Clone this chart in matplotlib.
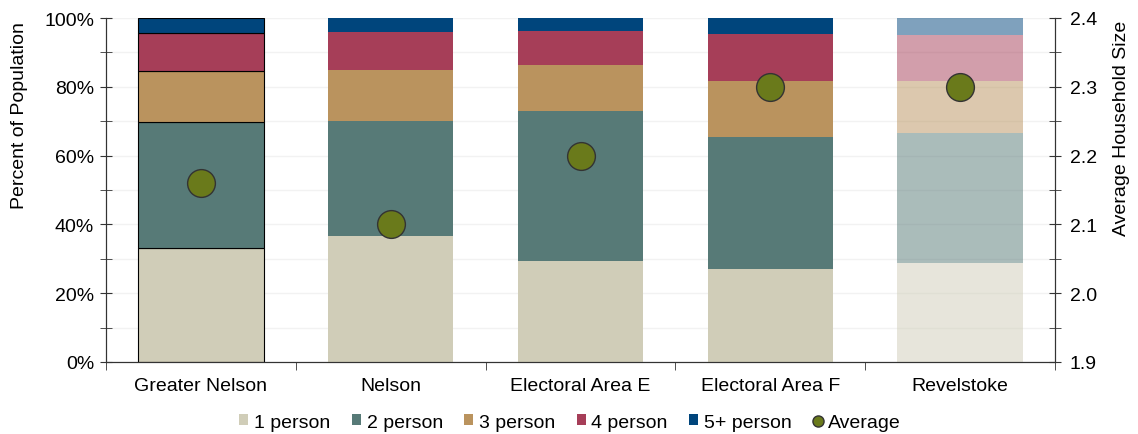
import numpy as np
import matplotlib
matplotlib.use('Agg')
import matplotlib.pyplot as plt
from matplotlib.patches import Patch
from matplotlib.lines import Line2D

plt.rcParams['font.family'] = ['Liberation Sans', 'DejaVu Sans']

regions = ['Greater Nelson', 'Nelson', 'Electoral Area E', 'Electoral Area F', 'Revelstoke']
sizes = ['1 person', '2 person', '3 person', '4 person', '5+ person']
one_person = [33.0, 36.6, 29.4, 26.9, 28.8]
two_person = [36.7, 33.6, 43.7, 38.5, 37.8]
three_person = [14.9, 14.6, 13.3, 16.4, 15.2]
four_person = [11.1, 11.2, 9.9, 13.6, 13.3]
five_plus = [4.3, 4.0, 3.7, 4.6, 4.9]
avg_size = [2.16, 2.10, 2.20, 2.30, 2.30]

colors = ['#D0CDB8', '#577A77', '#BA935E', '#A63E58', '#00457C']
avg_color = '#6A7A1B'
fs = 14

fig = plt.figure(figsize=(11.38, 4.35), dpi=100)
ax = fig.add_axes([106/1138, 1 - 363/435, (1055 - 106)/1138, (363 - 19)/435])

x = np.arange(len(regions))
series = [one_person, two_person, three_person, four_person, five_plus]
bottom = np.zeros(len(regions))
for vals, c in zip(series, colors):
    vals = np.array(vals)
    for i in range(len(regions)):
        if i == 0:
            ax.bar(x[i], vals[i], 0.66, bottom=bottom[i], color=c,
                   edgecolor='black', linewidth=0.8, zorder=2)
        elif i == 4:
            ax.bar(x[i], vals[i], 0.66, bottom=bottom[i], color=c,
                   alpha=0.5, linewidth=0, zorder=2)
        else:
            ax.bar(x[i], vals[i], 0.66, bottom=bottom[i], color=c,
                   linewidth=0, zorder=2)
    bottom += vals

ax.set_xlim(-0.5, 4.5)
ax.set_ylim(0, 100)
ax.set_yticks(np.arange(0, 101, 20))
ax.set_yticks(np.arange(0, 101, 10), minor=True)
ax.set_yticklabels([f'{v}%' for v in range(0, 101, 20)])
ax.yaxis.grid(True, which='both', color='#F2F2F2', linewidth=1, zorder=0)
ax.set_axisbelow(True)
ax.set_xticks(x)
ax.set_xticklabels(regions, fontsize=fs)
ax.set_xticks(np.arange(-0.5, 5, 1), minor=True)
ax.tick_params(axis='x', which='major', length=0, pad=11)
ax.tick_params(axis='x', which='minor', length=6, direction='out', color='#333333')
ax.tick_params(axis='y', which='both', direction='inout', length=9, color='#333333',
               labelsize=fs, pad=4)
ax.spines['top'].set_visible(False)
for s in ['left', 'right', 'bottom']:
    ax.spines[s].set_color('#333333')

ax2 = ax.twinx()
ax2.scatter(x, avg_size, s=400, color=avg_color, edgecolor='#333333',
            linewidth=1, zorder=5)
ax2.set_ylim(1.9, 2.4)
ax2.set_yticks(np.arange(1.9, 2.41, 0.1))
ax2.set_yticks(np.arange(1.9, 2.41, 0.05), minor=True)
ax2.set_yticklabels([f'{v:.1f}' for v in np.arange(1.9, 2.41, 0.1)])
ax2.tick_params(axis='y', which='both', direction='inout', length=9, color='#333333',
                labelsize=fs, pad=6)
ax2.spines['top'].set_visible(False)
for s in ['left', 'right', 'bottom']:
    ax2.spines[s].set_color('#333333')

# axis titles sit above centre in the original
fig.text(20/1138, 1 - 116/435, 'Percent of Population', rotation=90,
         ha='center', va='center', fontsize=fs)
fig.text(1122/1138, 1 - 128/435, 'Average Household Size', rotation=90,
         ha='center', va='center', fontsize=fs)

handles = [Patch(facecolor=c, edgecolor='none') for c in colors]
handles.append(Line2D([], [], marker='o', linestyle='none', markersize=8,
                      markerfacecolor=avg_color, markeredgecolor='#333333'))
ax.legend(handles, sizes + ['Average'], loc='center', bbox_to_anchor=(0.489, -0.175),
          ncol=6, frameon=False, fontsize=fs, handlelength=0.46, handleheight=0.46,
          handletextpad=0.3, columnspacing=1.1)

fig.savefig('out.png', dpi=100)
